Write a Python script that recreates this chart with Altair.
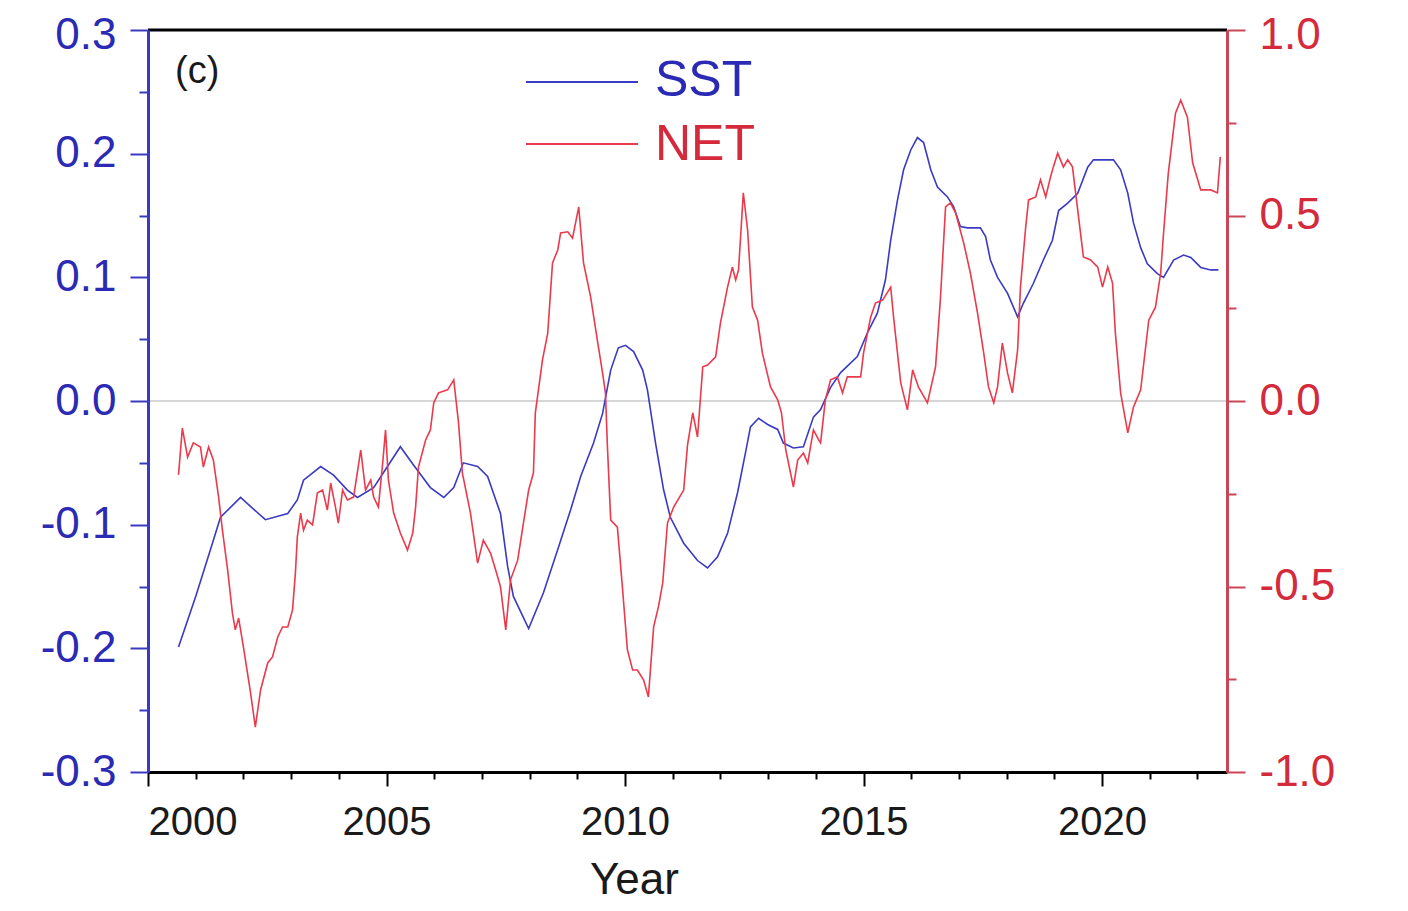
import altair as alt
import pandas as pd

# ---------------- data ----------------
sst_year = [2000.64, 2001.00, 2001.31, 2001.52, 2001.94, 2002.46, 2002.93, 2003.13, 2003.26, 2003.62,
            2003.89, 2004.18, 2004.39, 2004.73, 2005.02, 2005.29, 2005.57, 2005.92, 2006.20, 2006.41,
            2006.61, 2006.91, 2007.12, 2007.39, 2007.54, 2007.66, 2007.98, 2008.29, 2008.59, 2008.86,
            2009.07, 2009.34, 2009.53, 2009.70, 2009.86, 2010.01, 2010.18, 2010.37, 2010.47, 2010.64,
            2010.81, 2010.95, 2011.23, 2011.52, 2011.73, 2011.94, 2012.15, 2012.36, 2012.53, 2012.63,
            2012.80, 2012.99, 2013.20, 2013.32, 2013.53, 2013.74, 2013.95, 2014.10, 2014.31, 2014.52,
            2014.87, 2015.08, 2015.29, 2015.46, 2015.57, 2015.71, 2015.84, 2015.99, 2016.13, 2016.26,
            2016.41, 2016.55, 2016.76, 2016.89, 2017.03, 2017.18, 2017.45, 2017.56, 2017.66, 2017.81,
            2018.02, 2018.23, 2018.35, 2018.56, 2018.77, 2018.96, 2019.09, 2019.28, 2019.49, 2019.70,
            2019.82, 2020.24, 2020.39, 2020.54, 2020.66, 2020.81, 2020.95, 2021.16, 2021.29, 2021.50,
            2021.71, 2021.86, 2022.07, 2022.28, 2022.44]
sst_val = [-0.199, -0.158, -0.120, -0.094, -0.078, -0.096, -0.091, -0.080, -0.064, -0.053,
           -0.060, -0.072, -0.078, -0.070, -0.053, -0.037, -0.052, -0.070, -0.078, -0.070,
           -0.050, -0.053, -0.061, -0.091, -0.134, -0.158, -0.184, -0.155, -0.120, -0.088,
           -0.061, -0.034, -0.010, 0.025, 0.043, 0.045, 0.040, 0.025, 0.009, -0.034,
           -0.072, -0.094, -0.115, -0.129, -0.135, -0.126, -0.107, -0.074, -0.041, -0.021,
           -0.014, -0.019, -0.023, -0.034, -0.038, -0.037, -0.013, -0.007, 0.011, 0.023,
           0.036, 0.055, 0.071, 0.098, 0.130, 0.162, 0.187, 0.203, 0.213, 0.209,
           0.187, 0.173, 0.165, 0.157, 0.141, 0.140, 0.140, 0.133, 0.114, 0.100,
           0.087, 0.068, 0.079, 0.095, 0.114, 0.130, 0.154, 0.160, 0.168, 0.189,
           0.195, 0.195, 0.187, 0.168, 0.144, 0.124, 0.111, 0.103, 0.100, 0.114,
           0.118, 0.116, 0.108, 0.106, 0.106]

net_year = [2000.64, 2000.72, 2000.83, 2000.95, 2001.10, 2001.16, 2001.27, 2001.37, 2001.48, 2001.56,
            2001.67, 2001.77, 2001.83, 2001.90, 2002.00, 2002.15, 2002.25, 2002.36, 2002.51, 2002.61,
            2002.72, 2002.82, 2002.93, 2003.03, 2003.09, 2003.13, 2003.20, 2003.26, 2003.34, 2003.45,
            2003.55, 2003.66, 2003.76, 2003.83, 2003.93, 2003.99, 2004.08, 2004.18, 2004.31, 2004.46,
            2004.56, 2004.67, 2004.73, 2004.83, 2004.92, 2004.98, 2005.04, 2005.15, 2005.29, 2005.44,
            2005.55, 2005.61, 2005.67, 2005.82, 2005.92, 2005.99, 2006.09, 2006.28, 2006.41, 2006.51,
            2006.59, 2006.76, 2006.91, 2007.03, 2007.18, 2007.29, 2007.39, 2007.50, 2007.60, 2007.75,
            2007.87, 2007.98, 2008.08, 2008.12, 2008.27, 2008.38, 2008.48, 2008.59, 2008.65, 2008.80,
            2008.90, 2009.03, 2009.13, 2009.28, 2009.42, 2009.53, 2009.59, 2009.63, 2009.70, 2009.84,
            2009.95, 2010.05, 2010.16, 2010.26, 2010.39, 2010.49, 2010.60, 2010.70, 2010.79, 2010.89,
            2011.02, 2011.23, 2011.31, 2011.42, 2011.52, 2011.63, 2011.73, 2011.90, 2012.00, 2012.15,
            2012.25, 2012.32, 2012.38, 2012.48, 2012.57, 2012.67, 2012.78, 2012.88, 2013.05, 2013.20,
            2013.28, 2013.37, 2013.47, 2013.53, 2013.62, 2013.74, 2013.83, 2013.95, 2014.06, 2014.10,
            2014.20, 2014.31, 2014.45, 2014.56, 2014.66, 2014.94, 2015.00, 2015.15, 2015.25, 2015.40,
            2015.57, 2015.63, 2015.78, 2015.92, 2016.03, 2016.15, 2016.34, 2016.51, 2016.61, 2016.72,
            2016.82, 2016.93, 2017.10, 2017.24, 2017.39, 2017.52, 2017.62, 2017.73, 2017.81, 2017.91,
            2018.02, 2018.12, 2018.23, 2018.29, 2018.40, 2018.46, 2018.61, 2018.71, 2018.82, 2018.92,
            2018.98, 2019.07, 2019.19, 2019.28, 2019.38, 2019.49, 2019.61, 2019.76, 2019.91, 2020.01,
            2020.12, 2020.22, 2020.28, 2020.39, 2020.54, 2020.66, 2020.81, 2020.98, 2021.12, 2021.23,
            2021.29, 2021.39, 2021.54, 2021.65, 2021.79, 2021.90, 2022.07, 2022.28, 2022.42, 2022.48]
net_val = [-0.199, -0.073, -0.151, -0.113, -0.124, -0.178, -0.124, -0.159, -0.259, -0.348,
           -0.456, -0.572, -0.617, -0.585, -0.663, -0.787, -0.879, -0.779, -0.706, -0.690,
           -0.636, -0.609, -0.609, -0.563, -0.464, -0.367, -0.302, -0.348, -0.321, -0.334,
           -0.248, -0.240, -0.294, -0.221, -0.286, -0.329, -0.240, -0.267, -0.259, -0.132,
           -0.240, -0.213, -0.259, -0.286, -0.167, -0.078, -0.213, -0.302, -0.356, -0.402,
           -0.356, -0.286, -0.178, -0.105, -0.078, -0.005, 0.022, 0.030, 0.057, -0.059,
           -0.194, -0.302, -0.437, -0.375, -0.410, -0.456, -0.501, -0.617, -0.482, -0.429,
           -0.329, -0.240, -0.194, -0.032, 0.111, 0.183, 0.372, 0.407, 0.453, 0.456,
           0.439, 0.523, 0.372, 0.280, 0.164, 0.075, 0.022, -0.119, -0.321, -0.340,
           -0.509, -0.671, -0.725, -0.725, -0.752, -0.798, -0.609, -0.555, -0.491, -0.329,
           -0.286, -0.240, -0.119, -0.032, -0.097, 0.092, 0.097, 0.119, 0.210, 0.307,
           0.361, 0.326, 0.353, 0.561, 0.461, 0.253, 0.218, 0.129, 0.038, 0.003,
           -0.032, -0.132, -0.194, -0.232, -0.159, -0.140, -0.167, -0.078, -0.105, -0.113,
           0.003, 0.057, 0.065, 0.022, 0.065, 0.065, 0.129, 0.226, 0.264, 0.272,
           0.307, 0.226, 0.049, -0.024, 0.084, 0.038, -0.005, 0.092, 0.272, 0.523,
           0.534, 0.507, 0.426, 0.345, 0.237, 0.129, 0.038, -0.005, 0.038, 0.156,
           0.075, 0.022, 0.137, 0.307, 0.469, 0.542, 0.550, 0.596, 0.550, 0.604,
           0.631, 0.668, 0.631, 0.650, 0.631, 0.515, 0.388, 0.380, 0.361, 0.307,
           0.361, 0.318, 0.183, 0.022, -0.086, -0.016, 0.030, 0.218, 0.253, 0.345,
           0.453, 0.615, 0.776, 0.811, 0.765, 0.642, 0.569, 0.569, 0.561, 0.658]

x_ticks = list(range(2000, 2023))
left_ticks = [-0.3, -0.25, -0.2, -0.15, -0.1, -0.05, 0.0, 0.05, 0.1, 0.15, 0.2, 0.25, 0.3]
right_ticks = [-1.0, -0.75, -0.5, -0.25, 0.0, 0.25, 0.5, 0.75, 1.0]
legend_names = ["SST", "NET"]
panel_label = "(c)"
x_title = "Year"

# ---------------- style ----------------
W, H = 1079, 742
BLUE_LINE = "#3a3ac4"
RED_LINE = "#ea3a4c"
BLUE_TXT = "#2a2ab4"
RED_TXT = "#d42a3c"
BLUE_AX = "#3a3ac0"
RED_AX = "#c84656"
FONT = "Liberation Sans"

sst_df = pd.DataFrame({"year": sst_year, "sst": sst_val})
net_df = pd.DataFrame({"year": net_year, "net": net_val})

x_scale = alt.Scale(domain=[2000, 2022.62], nice=False, zero=False)

x_axis = alt.Axis(
    values=x_ticks, format="d",
    labelExpr="datum.value % 5 == 0 ? datum.label : ''",
    labelOverlap=False,
    tickSize={"condition": {"test": "datum.value % 5 == 0", "value": 14}, "value": 7},
    tickColor="black", tickWidth=2,
    domainColor="black", domainWidth=3,
    labelFont=FONT, labelFontSize=40, labelColor="#1a1a1a", labelPadding=16,
    title=x_title, titleFont=FONT, titleFontSize=44, titleFontWeight="normal",
    titleColor="#1a1a1a", titleX=486, titleY=121, titleBaseline="alphabetic",
    titleAlign="center", grid=False, zindex=2,
)

left_axis = alt.Axis(
    values=left_ticks, orient="left",
    labelExpr="abs(round(datum.value*100)) % 10 == 0 ? replace(format(datum.value, '.1f'), '\u2212', '-') : ''",
    labelOverlap=False,
    labelOffset={"condition": {"test": "datum.value > 0.29", "value": 5}, "value": 0},
    tickSize={"condition": {"test": "abs(round(datum.value*100)) % 10 == 0", "value": 18}, "value": 9},
    tickColor=BLUE_AX, tickWidth=2,
    domainColor=BLUE_AX, domainWidth=3,
    labelFont=FONT, labelFontSize=44, labelColor=BLUE_TXT, labelPadding=14,
    grid=False, zindex=2,
)

right_axis = alt.Axis(
    values=right_ticks, orient="right",
    labelExpr="abs(round(datum.value*100)) % 50 == 0 ? replace(format(datum.value, '.1f'), '\u2212', '-') : ''",
    labelOverlap=False,
    labelOffset={"condition": {"test": "datum.value > 0.99", "value": 5}, "value": 0},
    tickSize={"condition": {"test": "abs(round(datum.value*100)) % 50 == 0", "value": 18}, "value": 9},
    tickColor=RED_AX, tickWidth=2,
    domainColor=RED_AX, domainWidth=3,
    labelFont=FONT, labelFontSize=44, labelColor=RED_TXT, labelPadding=14,
    grid=False, zindex=2,
)

zero_rule = alt.Chart(sst_df).mark_rule(color="#d6d6d6", strokeWidth=2).encode(
    y=alt.datum(0, scale=alt.Scale(domain=[-0.3, 0.3], nice=False))
)

sst_line = alt.Chart(sst_df).mark_line(color=BLUE_LINE, strokeWidth=1.6).encode(
    x=alt.X("year:Q", scale=x_scale, axis=x_axis),
    y=alt.Y("sst:Q", scale=alt.Scale(domain=[-0.3, 0.3], nice=False), axis=left_axis, title=None),
)

net_line = alt.Chart(net_df).mark_line(color=RED_LINE, strokeWidth=1.6).encode(
    x=alt.X("year:Q", scale=x_scale),
    y=alt.Y("net:Q", scale=alt.Scale(domain=[-1.0, 1.0], nice=False), axis=right_axis, title=None),
)

left_layer = alt.layer(zero_rule, sst_line)

# annotations (frame top, legend, panel label)
ann_df = pd.DataFrame({"k": [0]})
top_border = alt.Chart(ann_df).mark_rule(color="black", strokeWidth=3).encode(
    x=alt.value(0), x2=alt.value(W), y=alt.value(0)
)
leg_sst = alt.Chart(ann_df).mark_rule(color=BLUE_LINE, strokeWidth=2).encode(
    x=alt.value(378), x2=alt.value(490), y=alt.value(52)
)
leg_net = alt.Chart(ann_df).mark_rule(color=RED_LINE, strokeWidth=2).encode(
    x=alt.value(378), x2=alt.value(490), y=alt.value(114)
)
txt_sst = alt.Chart(ann_df).mark_text(
    text=legend_names[0], font=FONT, fontSize=50, color=BLUE_TXT, align="left", baseline="middle"
).encode(x=alt.value(507), y=alt.value(51))
txt_net = alt.Chart(ann_df).mark_text(
    text=legend_names[1], font=FONT, fontSize=50, color=RED_TXT, align="left", baseline="middle"
).encode(x=alt.value(507), y=alt.value(115))
txt_c = alt.Chart(ann_df).mark_text(
    text=panel_label, font=FONT, fontSize=38, color="#1a1a1a", align="left", baseline="middle"
).encode(x=alt.value(27), y=alt.value(42))

chart = alt.layer(
    left_layer, net_line, top_border, leg_sst, leg_net, txt_sst, txt_net, txt_c
).resolve_scale(y="independent").properties(
    width=W, height=H,
    padding={"left": 140, "top": 22, "right": 173, "bottom": 131},
    autosize=alt.AutoSizeParams(type="none"),
).configure_view(stroke=None).configure(background="white")

chart.save("out.html", embed_options={"renderer": "svg", "actions": False})
